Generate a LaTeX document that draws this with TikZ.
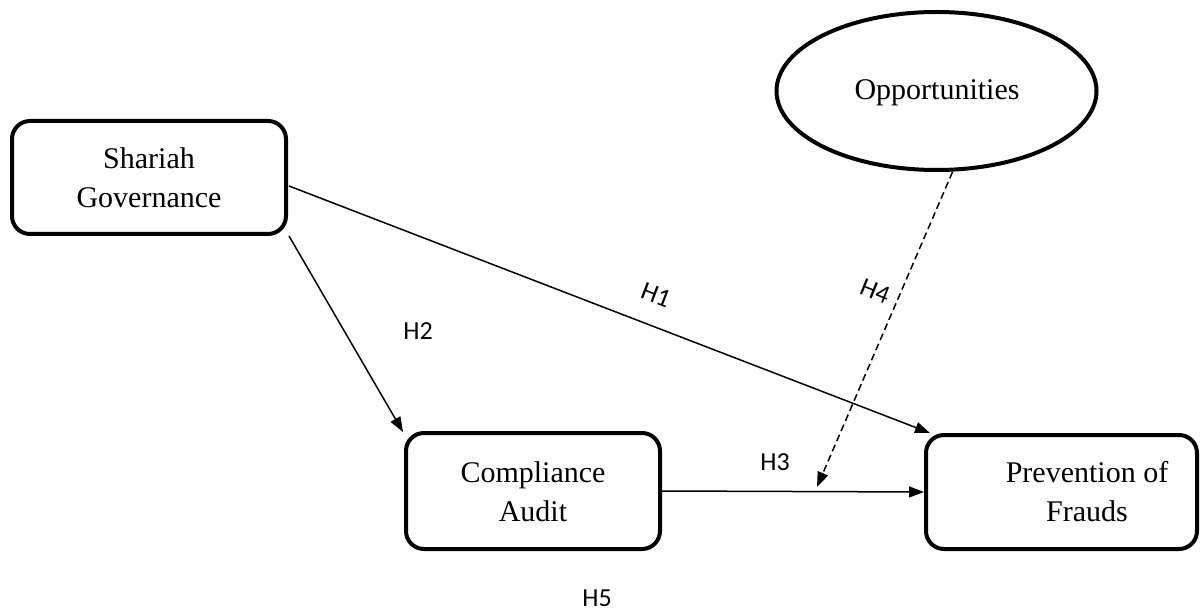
\documentclass[tikz,border=0pt]{standalone}
\usepackage{fontspec}
\setmainfont{Liberation Serif}
\newfontfamily\labfont{Carlito}
\usetikzlibrary{arrows.meta,shapes.geometric}
\tikzset{
  varbox/.style={draw, line width=4pt, rounded corners=18pt, inner sep=0pt},
  vartext/.style={align=center, font=\fontsize{30}{39}\selectfont, inner sep=0pt},
  hyp/.style={font=\labfont\fontsize{26}{30}\selectfont, inner sep=0pt},
  conn/.style={line width=1.5pt, -{Triangle[length=15pt,width=11pt]}},
  modconn/.style={line width=1.5pt, dash pattern=on 7pt off 4pt, -{Triangle[length=15pt,width=11pt]}}
}
\begin{document}
\begin{tikzpicture}[x=1pt,y=-1pt]
\useasboundingbox (0,0) rectangle (1202,612);
% boxes
\node[varbox, minimum width=274pt, minimum height=113pt] (sg) at (149,177.5) {};
\node[varbox, minimum width=254pt, minimum height=116pt] (ca) at (533,491) {};
\node[varbox, minimum width=271pt, minimum height=114pt] (pf) at (1061.5,492) {};
\node[draw, ellipse, line width=4pt, minimum width=320pt, minimum height=158pt, inner sep=0pt] (op) at (936.5,91) {};
% texts
\node[vartext] (sgt) at (149,178) {Shariah\\Governance};
\node[vartext] (cat) at (533,491.5) {Compliance\\Audit};
\node[vartext] (pft) at (1087,491.5) {Prevention of\\Frauds};
\node[vartext, anchor=base] (opt) at (937,100) {Opportunities};
% connector points
\coordinate (h1end) at ([xshift=6pt,yshift=0pt]pf.north west);
\coordinate (h1start) at ([xshift=1pt,yshift=-8.5pt]sg.east);
\coordinate (h4start) at ([xshift=16pt]op.south);
\coordinate (h4end) at (817,487);
% connectors
\draw[conn] (h1start) -- (h1end);
\draw[conn] ([xshift=1pt]sg.south east) -- ([xshift=-1pt,yshift=-1pt]ca.north west);
\draw[conn] (ca.east) -- (pf.west);
\draw[modconn] (h4start) -- (h4end);
% labels
\node[hyp, rotate=-21] (lh1) at (656,295) {H1};
\node[hyp] (lh2) at (418,331) {H2};
\node[hyp] (lh3) at (775,462) {H3};
\node[hyp, rotate=-22] (lh4) at (875,291) {H4};
\node[hyp] (lh5) at (597,598) {H5};
\end{tikzpicture}
\end{document}
